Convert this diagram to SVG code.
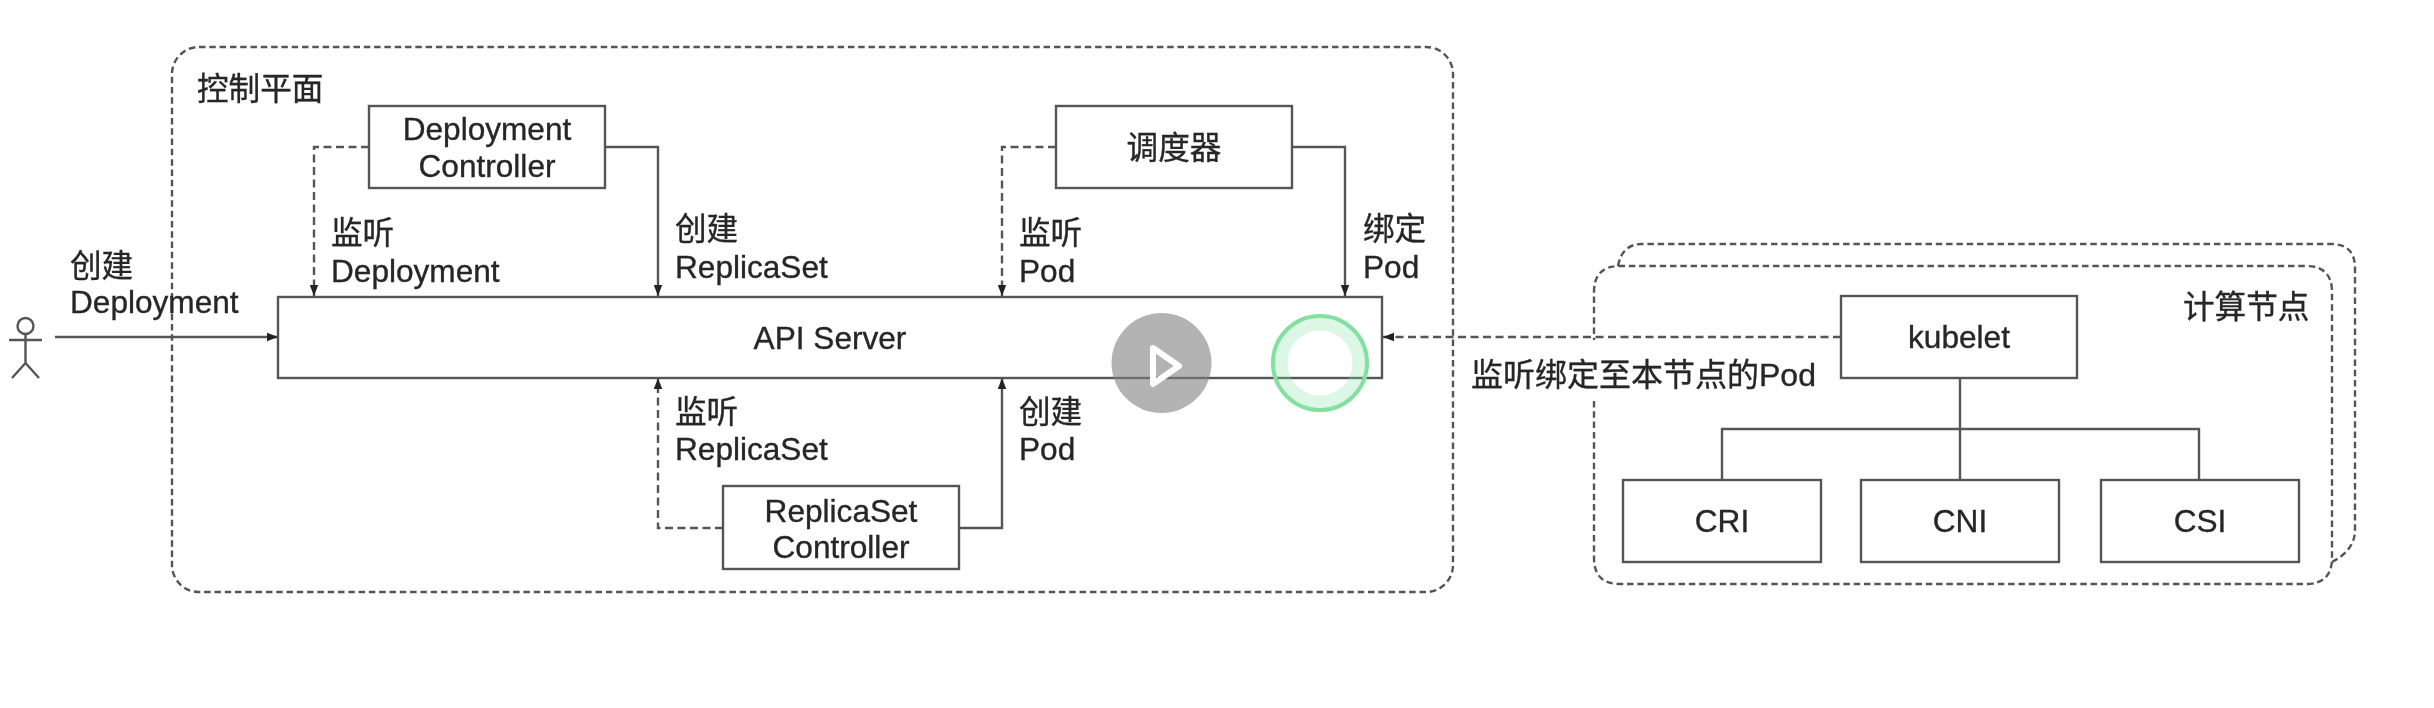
<svg xmlns="http://www.w3.org/2000/svg" width="2434" height="708" viewBox="0 0 2434 708">
<style>
text{font-family:"Liberation Sans","Noto Sans CJK SC",sans-serif;font-size:31.6px;fill:#262626;stroke:#262626;stroke-width:.35}
.m{text-anchor:middle}
.box{fill:#fff;stroke:#555;stroke-width:2.4}
.dash{fill:none;stroke:#555;stroke-width:2.4;stroke-dasharray:8 4.5}
.fine{stroke-dasharray:6.5 3.8}
.line{fill:none;stroke:#555;stroke-width:2.4}
</style>
<defs>
<marker id="arr" markerUnits="userSpaceOnUse" markerWidth="12" markerHeight="10" refX="11" refY="5" orient="auto"><path d="M0 0.8L11 5L0 9.2z" fill="#222"/></marker>
<filter id="soft" x="-2%" y="-2%" width="104%" height="104%"><feGaussianBlur stdDeviation="0.7"/></filter>
</defs>
<rect width="2434" height="708" fill="#fff"/>
<g filter="url(#soft)">
<g id="control-plane"><rect class="dash fine" x="172" y="47" width="1281" height="545" rx="27"/><text x="197" y="100">控制平面</text></g>
<g id="compute-node-back"><path class="dash fine" d="M1618 266Q1622 244 1642 244H2331Q2355 244 2355 268V530Q2355 550 2332 562"/></g>
<g id="compute-node-front"><path class="dash fine" d="M1594 401V558Q1594 584 1620 584H2306Q2332 584 2332 558V292Q2332 266 2306 266H1620Q1594 266 1594 292V340"/><text x="2183" y="318">计算节点</text></g>
<g id="connectors">
<path class="line" marker-end="url(#arr)" d="M55 337H278"/>
<path class="dash" marker-end="url(#arr)" d="M369 147H314V296"/>
<path class="line" marker-end="url(#arr)" d="M605 147H658V296"/>
<path class="dash" marker-end="url(#arr)" d="M1056 147H1002V296"/>
<path class="line" marker-end="url(#arr)" d="M1292 147H1345V296"/>
<path class="dash" marker-end="url(#arr)" d="M723 528H658V378"/>
<path class="line" marker-end="url(#arr)" d="M959 528H1002V378"/>
<path class="dash" marker-end="url(#arr)" d="M1841 337H1383"/>
<path class="line" d="M1960 378V480M1722 480V429H2199V480"/>
<text x="70" y="277">创建</text><text x="70" y="313">Deployment</text>
<text x="331" y="244">监听</text><text x="331" y="282">Deployment</text>
<text x="675" y="240">创建</text><text x="675" y="278">ReplicaSet</text>
<text x="1019" y="244">监听</text><text x="1019" y="282">Pod</text>
<text x="1363" y="240">绑定</text><text x="1363" y="278">Pod</text>
<text x="675" y="423">监听</text><text x="675" y="460">ReplicaSet</text>
<text x="1019" y="423">创建</text><text x="1019" y="460">Pod</text>
<text x="1471" y="386" style="font-size:32px">监听绑定至本节点的Pod</text>
</g>
<g id="user" class="line"><circle cx="25.5" cy="326" r="8"/><path d="M9 340H42M25.5 334V363M12 378L25.5 363L39 378"/></g>
<g id="api-server"><rect class="box" x="278" y="297" width="1104" height="81"/><text class="m" x="830" y="349">API Server</text></g>
<g id="deployment-controller"><rect class="box" x="369" y="106" width="236" height="82"/><text class="m" x="487" y="140">Deployment</text><text class="m" x="487" y="177">Controller</text></g>
<g id="scheduler"><rect class="box" x="1056" y="106" width="236" height="82"/><text class="m" x="1174" y="159">调度器</text></g>
<g id="replicaset-controller"><rect class="box" x="723" y="486" width="236" height="83"/><text class="m" x="841" y="522">ReplicaSet</text><text class="m" x="841" y="558">Controller</text></g>
<g id="kubelet"><rect class="box" x="1841" y="296" width="236" height="82"/><text class="m" x="1959" y="348">kubelet</text></g>
<g id="cri"><rect class="box" x="1623" y="480" width="198" height="82"/><text class="m" x="1722" y="532">CRI</text></g>
<g id="cni"><rect class="box" x="1861" y="480" width="198" height="82"/><text class="m" x="1960" y="532">CNI</text></g>
<g id="csi"><rect class="box" x="2101" y="480" width="198" height="82"/><text class="m" x="2200" y="532">CSI</text></g>
</g>
<g id="play-overlay"><circle cx="1161.5" cy="363" r="50" fill="#808080" fill-opacity=".6"/><path d="M1153 348L1179 366L1153 384z" fill="none" stroke="#fff" stroke-width="6" stroke-linejoin="round"/></g>
<g id="cursor-ring" fill="none"><circle cx="1320" cy="363" r="39" stroke="#8be6a8" stroke-opacity=".3" stroke-width="13"/><circle cx="1320" cy="363" r="47" stroke="#82e0a0" stroke-width="4"/></g>
</svg>
